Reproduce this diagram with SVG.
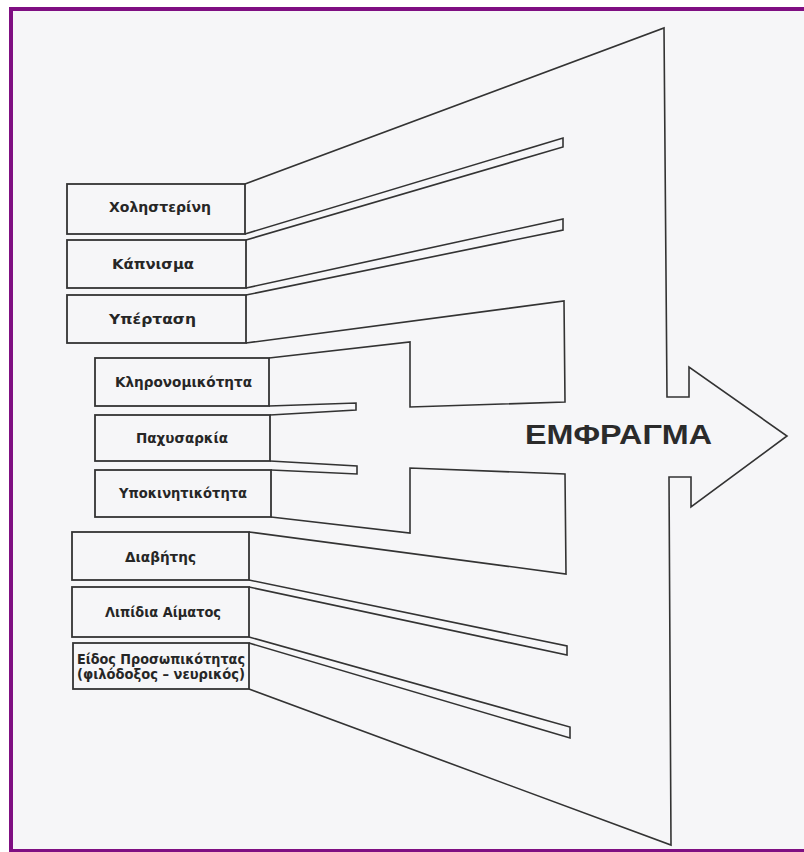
<svg xmlns="http://www.w3.org/2000/svg" width="804" height="852" viewBox="0 0 804 852">
<style>
.bg{fill:#f6f6f8}
.frame{fill:#7f0f82}
.box{fill:none;stroke:#333333;stroke-width:1.8}
.ln{fill:none;stroke:#333333;stroke-width:1.6;stroke-linejoin:miter}
.lbl{font-family:"DejaVu Sans","Liberation Sans",sans-serif;font-weight:bold;font-size:14.5px;fill:#262626}
.small{font-size:13.5px}
.big{font-family:"Liberation Sans",Arial,sans-serif;font-weight:bold;font-size:27px;fill:#2b2b2b}
</style>
<rect width="804" height="852" fill="#ffffff"/>
<rect x="9" y="7" width="795" height="845" class="bg"/>
<rect x="9" y="7" width="795" height="4" class="frame"/>
<rect x="9" y="7" width="4" height="845" class="frame"/>
<rect x="9" y="849" width="795" height="3" class="frame"/>

<g id="node-emfragma">
<path class="ln" d="M245,184 L664,28 L667,397 L689,397 L689,367 L787,436 L691,507 L691,477 L669,477 L671,845 L249,689"/>
<text class="big" x="525" y="444" textLength="187" lengthAdjust="spacingAndGlyphs">ΕΜΦΡΑΓΜΑ</text>
</g>

<g id="connectors">
<path class="ln" d="M245,234 L563,138 L563,147 L246,240"/>
<path class="ln" d="M246,288 L563,219 L563,230 L246,295"/>
<path class="ln" d="M246,343 L564,301 L565,402 L410,407 L410,342 L269,358"/>
<path class="ln" d="M269,406 L356,403 L356,410 L270,415"/>
<path class="ln" d="M270,461 L357,466 L357,474 L271,470"/>
<path class="ln" d="M271,517 L410,533 L410,468 L565,474 L566,574 L249,532"/>
<path class="ln" d="M249,580 L567,646 L567,655 L249,587"/>
<path class="ln" d="M249,637 L570,727 L570,738 L249,643"/>
</g>

<g id="node-cholesterini">
<rect class="box" x="67" y="184" width="178" height="50"/>
<text class="lbl" x="109" y="212" textLength="102" lengthAdjust="spacingAndGlyphs">Χοληστερίνη</text>
</g>
<g id="node-kapnisma">
<rect class="box" x="67" y="240" width="179" height="48"/>
<text class="lbl" x="112" y="269" textLength="82" lengthAdjust="spacingAndGlyphs">Κάπνισμα</text>
</g>
<g id="node-ypertasi">
<rect class="box" x="67" y="295" width="179" height="48"/>
<text class="lbl" x="109" y="324" textLength="87" lengthAdjust="spacingAndGlyphs">Υπέρταση</text>
</g>
<g id="node-klironomikotita">
<rect class="box" x="95" y="358" width="174" height="48"/>
<text class="lbl" x="115" y="387" textLength="137" lengthAdjust="spacingAndGlyphs">Κληρονομικότητα</text>
</g>
<g id="node-pachysarkia">
<rect class="box" x="95" y="415" width="175" height="46"/>
<text class="lbl" x="136" y="443" textLength="92" lengthAdjust="spacingAndGlyphs">Παχυσαρκία</text>
</g>
<g id="node-ypokinitikotita">
<rect class="box" x="95" y="470" width="176" height="47"/>
<text class="lbl" x="119" y="498" textLength="128" lengthAdjust="spacingAndGlyphs">Υποκινητικότητα</text>
</g>
<g id="node-diavitis">
<rect class="box" x="72" y="532" width="177" height="48"/>
<text class="lbl" x="125" y="562" textLength="71" lengthAdjust="spacingAndGlyphs">Διαβήτης</text>
</g>
<g id="node-lipidia">
<rect class="box" x="72" y="587" width="177" height="50"/>
<text class="lbl" x="105" y="617" textLength="116" lengthAdjust="spacingAndGlyphs">Λιπίδια Αίματος</text>
</g>
<g id="node-eidos">
<rect class="box" x="73" y="643" width="176" height="46"/>
<text class="lbl small" x="77" y="664" textLength="168" lengthAdjust="spacingAndGlyphs">Είδος Προσωπικότητας</text>
<text class="lbl small" x="77" y="679" textLength="168" lengthAdjust="spacingAndGlyphs">(φιλόδοξος – νευρικός)</text>
</g>
</svg>
